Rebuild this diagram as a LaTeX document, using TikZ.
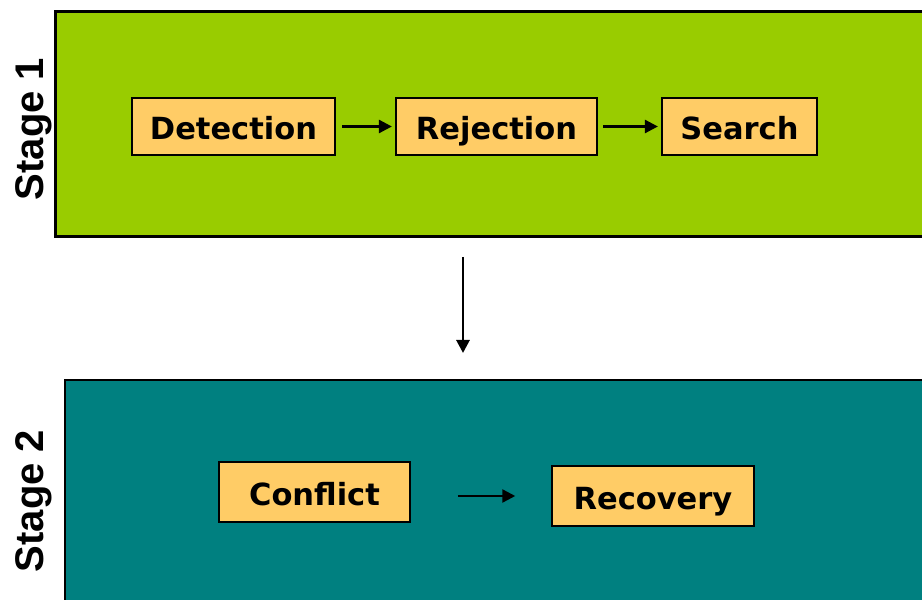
\documentclass[tikz,border=0pt]{standalone}
\usepackage{fontspec}
\setmainfont{DejaVu Sans}
\newfontfamily\stagefont{Liberation Sans}
\usetikzlibrary{arrows.meta}
\definecolor{stgreen}{HTML}{99CC00}
\definecolor{stteal}{HTML}{008080}
\definecolor{boxfill}{HTML}{FFCC66}
\tikzset{
  stepbox/.style={draw=black, fill=boxfill, inner sep=0pt, text height=30pt, text depth=3pt, font=\fontsize{30.5}{36}\selectfont\bfseries},
  topbox/.style={stepbox, line width=2.2pt, minimum height=57pt},
  botbox/.style={stepbox, line width=1.5pt, minimum height=60pt},
  flow/.style={line width=2.6pt, -{Triangle[length=13pt,width=13pt]}},
  stagelab/.style={rotate=90, font=\fontsize{40}{44}\selectfont\stagefont\bfseries}
}
\begin{document}
\begin{tikzpicture}[x=1pt, y=1pt]
\useasboundingbox (0,0) rectangle (922,600);
\clip (0,0) rectangle (922,600);
% stage panels
\draw[line width=3pt, fill=stgreen] (55,588) rectangle (940,363);
\draw[line width=1.5pt, fill=stteal] (65,220) rectangle (940,-20);
% stage labels
\node[stagelab] (lab1) at (34,471) {Stage 1};
\node[stagelab] (lab2) at (34,99) {Stage 2};
% stage 1 boxes
\node[topbox, minimum width=203pt] (det) at (233.5,473.5) {Detection};
\node[topbox, minimum width=201pt] (rej) at (496.5,473.5) {Rejection};
\node[topbox, minimum width=155pt] (sea) at (739.5,473.5) {Search};
\draw[flow, shorten <=6pt, shorten >=3pt] (det) -- (rej);
\draw[flow, shorten <=5pt, shorten >=3pt] (rej) -- (sea);
% between stages
\coordinate (s1b) at (463,363);
\coordinate (s2t) at (463,220);
\draw[flow, line width=2.8pt, shorten <=20pt, shorten >=27pt] (s1b) -- (s2t);
% stage 2 boxes
\node[botbox, minimum width=191pt] (con) at (314.5,108) {Conflict};
\node[botbox, minimum width=202pt] (rec) at (653,104) {Recovery};
\draw[flow, line width=2.4pt, shorten <=47pt, shorten >=36pt] (con.east |- rec.center) -- (rec);
\end{tikzpicture}
\end{document}
